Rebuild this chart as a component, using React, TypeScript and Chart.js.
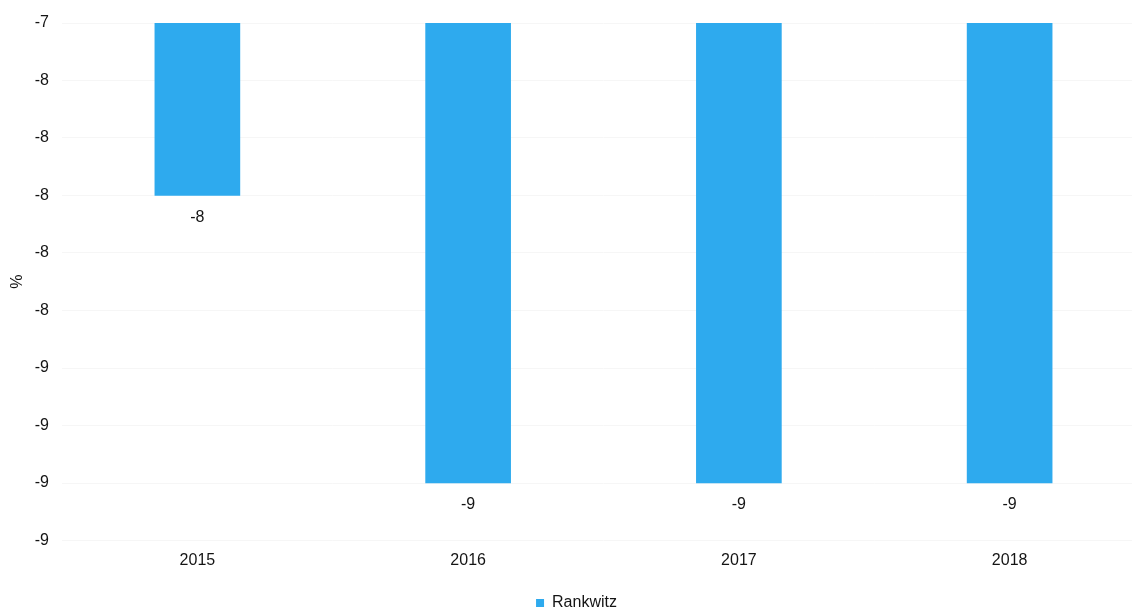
import React, { useEffect, useRef } from "react";
import { Chart, registerables } from "chart.js";

Chart.register(...registerables);

const years: string[] = ["2015", "2016", "2017", "2018"];
const rankwitz: number[] = [-8, -9, -9, -9];
const yTickValues: number[] = [-7.4, -7.6, -7.8, -8.0, -8.2, -8.4, -8.6, -8.8, -9.0, -9.2];
const seriesName = "Rankwitz";
const yTitle = "%";

const BAR_COLOR = "#2eaaee";
const TEXT_COLOR = "#141414";
const FONT = "'Liberation Sans', Arial, Helvetica, sans-serif";

const fmt = (v: number) => {
  const r = Math.round(v);
  return String(r === 0 ? 0 : r);
};

const dataLabels = {
  id: "dataLabels",
  afterDatasetsDraw(chart: any) {
    const { ctx } = chart;
    chart.data.datasets.forEach((ds: any, di: number) => {
      const meta = chart.getDatasetMeta(di);
      meta.data.forEach((el: any, i: number) => {
        const v = ds.data[i] as number;
        ctx.save();
        ctx.font = `16px ${FONT}`;
        ctx.fillStyle = TEXT_COLOR;
        ctx.textAlign = "center";
        ctx.textBaseline = "middle";
        ctx.fillText(fmt(v), el.x, el.y + 22);
        ctx.restore();
      });
    });
  },
};

export default function App() {
  const canvasRef = useRef<HTMLCanvasElement | null>(null);

  useEffect(() => {
    if (!canvasRef.current) return;
    Chart.defaults.font.family = FONT;
    const chart = new Chart(canvasRef.current, {
      type: "bar",
      data: {
        labels: years,
        datasets: [
          {
            label: seriesName,
            data: rankwitz,
            backgroundColor: BAR_COLOR,
            borderWidth: 0,
            barThickness: 85,
          },
        ],
      },
      options: {
        responsive: false,
        animation: false,
        layout: { padding: { top: 23, right: 3, left: 8, bottom: 0 } },
        plugins: {
          legend: {
            position: "bottom",
            labels: {
              boxWidth: 8,
              boxHeight: 8,
              padding: 10,
              color: TEXT_COLOR,
              font: { size: 16, family: FONT },
            },
          },
          tooltip: { enabled: false },
        },
        scales: {
          x: {
            grid: { display: false, drawTicks: false },
            border: { display: false },
            ticks: {
              color: TEXT_COLOR,
              font: { size: 16, family: FONT },
              padding: 10,
            },
            afterFit(scale: any) {
              scale.height = 44.5;
            },
          },
          y: {
            min: -9.2,
            max: -7.4,
            grid: { color: "#f6f6f6", drawTicks: false },
            border: { display: false },
            afterBuildTicks(scale: any) {
              scale.ticks = yTickValues.map((v) => ({ value: v }));
            },
            ticks: {
              color: TEXT_COLOR,
              font: { size: 16, family: FONT },
              padding: 13,
              callback: (v: any) => fmt(Number(v)),
            },
            title: {
              display: true,
              text: yTitle,
              color: TEXT_COLOR,
              font: { size: 16, family: FONT },
              padding: { top: 0, bottom: 0 },
            },
            afterFit(scale: any) {
              scale.width = 54;
            },
          },
        },
      },
      plugins: [dataLabels],
    });
    return () => chart.destroy();
  }, []);

  return (
    <div style={{ position: "fixed", left: 0, top: 0, width: 1148, height: 621, background: "#fff" }}>
      <canvas ref={canvasRef} width={1148} height={621} />
    </div>
  );
}
